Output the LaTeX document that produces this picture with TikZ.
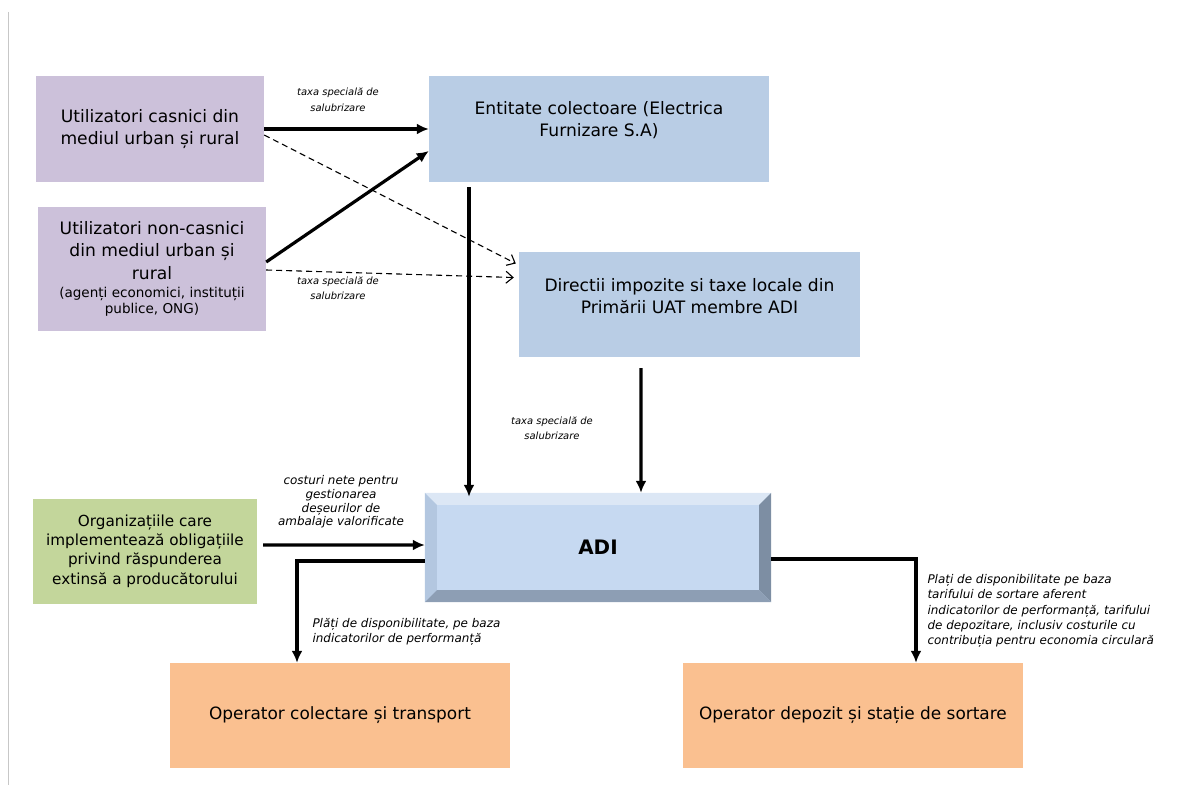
\documentclass[tikz,border=0pt]{standalone}
\usepackage{fontspec}
\setmainfont{DejaVu Sans}
\usetikzlibrary{arrows.meta}

\definecolor{usrpurple}{HTML}{CCC1DA}
\definecolor{entblue}{HTML}{B9CDE5}
\definecolor{orggreen}{HTML}{C3D69B}
\definecolor{oporange}{HTML}{FAC090}
\definecolor{adiface}{HTML}{C6D9F1}
\definecolor{adilight}{HTML}{DCE7F5}
\definecolor{adileft}{HTML}{B3C7E0}
\definecolor{adiright}{HTML}{7D8EA3}
\definecolor{adibottom}{HTML}{8D9EB4}

\newcommand{\subtxt}{\fontsize{13.6}{16}\selectfont}

\begin{document}
\begin{tikzpicture}[x=1bp,y=-1bp,
  box/.style={minimum width=340bp,minimum height=106bp,inner sep=2bp,align=center,font=\fontsize{17.2}{22.5}\selectfont},
  usr/.style={box,fill=usrpurple,minimum width=228bp},
  blu/.style={box,fill=entblue},
  txt/.style={align=center,font=\fontsize{17.2}{22.5}\selectfont},
  grn/.style={box,fill=orggreen,minimum width=224bp,minimum height=105bp,font=\fontsize{15.3}{19.5}\selectfont},
  opbox/.style={box,fill=oporange,minimum height=105bp,font=\fontsize{17}{20}\selectfont},
  adibox/.style={box,fill=adiface,minimum width=346bp,minimum height=109bp,font=\fontsize{20}{24}\selectfont\bfseries},
  lbl/.style={align=center,font=\fontsize{10}{15.5}\selectfont\itshape},
  lblbig/.style={lbl,font=\fontsize{12}{15.5}\selectfont\itshape},
  thk/.style={line width=3.2bp,-{Latex[length=12bp,width=11bp]}},
  dsh/.style={dash pattern=on 6bp off 4bp,line width=1.1bp,-{Straight Barb[length=7bp,width=12bp]}}]
\useasboundingbox (0,0) rectangle (1194,785);
\draw[black!22,line width=0.6bp] (8,12)--(8,785);

% boxes
\node[usr] (cas) at (150,129) {Utilizatori casnici din\\mediul urban și rural};
\node[usr,minimum height=124bp] (noncas) at (152,269) {Utilizatori non-casnici\\din mediul urban și\\rural\\[-4bp]{\subtxt(agenți economici, instituții}\\[-6bp]{\subtxt publice, ONG)}};

\node[blu] (ent) at (599,129) {};
\node[txt] (entt) at (599,120) {Entitate colectoare (Electrica\\Furnizare S.A)};
\node[blu,minimum width=341bp,minimum height=105bp] (dir) at (689.5,304.5) {};
\node[txt] (dirt) at (689.5,296) {Directii impozite si taxe locale din\\Primării UAT membre ADI};

\node[grn] (org) at (145,551) {Organizațiile care\\implementează obligațiile\\privind răspunderea\\extinsă a producătorului};

\node[adibox] (adi) at (598,547.5) {ADI};
\fill[adilight] (adi.north west)--(adi.north east)--([shift={(-12,12)}]adi.north east)--([shift={(12,12)}]adi.north west)--cycle;
\fill[adileft] (adi.north west)--([shift={(12,12)}]adi.north west)--([shift={(12,-12)}]adi.south west)--(adi.south west)--cycle;
\fill[adiright] (adi.north east)--(adi.south east)--([shift={(-12,-12)}]adi.south east)--([shift={(-12,12)}]adi.north east)--cycle;
\fill[adibottom] (adi.south west)--([shift={(12,-12)}]adi.south west)--([shift={(-12,-12)}]adi.south east)--(adi.south east)--cycle;

\node[opbox] (opc) at (340,715.5) {Operator colectare și transport};
\node[opbox] (opd) at (853,715.5) {Operator depozit și stație de sortare};

% connectors
\draw[thk] (cas.east)--(ent.west);
\draw[thk] ([yshift=7bp]noncas.east)--([yshift=-22bp]ent.west);
\draw[dsh] ([yshift=-6bp]cas.east)--([xshift=-3bp,yshift=41bp]dir.west);
\draw[dsh] ([yshift=-1bp]noncas.east)--([xshift=-5bp,yshift=27bp]dir.west);
\draw[thk] ([xshift=-130bp,yshift=-5bp]ent.south)--([xshift=-129bp,yshift=-4bp]adi.north);
\draw[thk] ([xshift=-48.5bp,yshift=-11bp]dir.south)--([xshift=43bp]adi.north);
\draw[thk] ([xshift=6bp,yshift=6bp]org.east)--([yshift=2.5bp]adi.west);
\draw[thk] ([yshift=-13.5bp]adi.west)-|([xshift=-43bp]opc.north);
\draw[thk] ([yshift=-11.5bp]adi.east)-|([xshift=63bp]opd.north);

% labels
\node[lbl] (lcas) at (338,100) {taxa specială de\\salubrizare};
\node[lbl] (lnon) at (338,288) {taxa specială de\\salubrizare};
\node[lbl] (ldir) at (552,428) {taxa specială de\\salubrizare};
\node[lblbig,font=\fontsize{12}{13.8}\selectfont\itshape] (lorg) at (341,502) {costuri nete pentru\\gestionarea\\deșeurilor de\\ambalaje valorificate};
\node[lblbig,anchor=west,align=left] (lopc) at (309,632) {Plăți de disponibilitate, pe baza\\indicatorilor de performanță};
\node[lblbig,anchor=west,align=left] (lopd) at (924,611) {Plați de disponibilitate pe baza\\tarifului de sortare aferent\\indicatorilor de performanță, tarifului\\de depozitare, inclusiv costurile cu\\contribuția pentru economia circulară};
\end{tikzpicture}
\end{document}
